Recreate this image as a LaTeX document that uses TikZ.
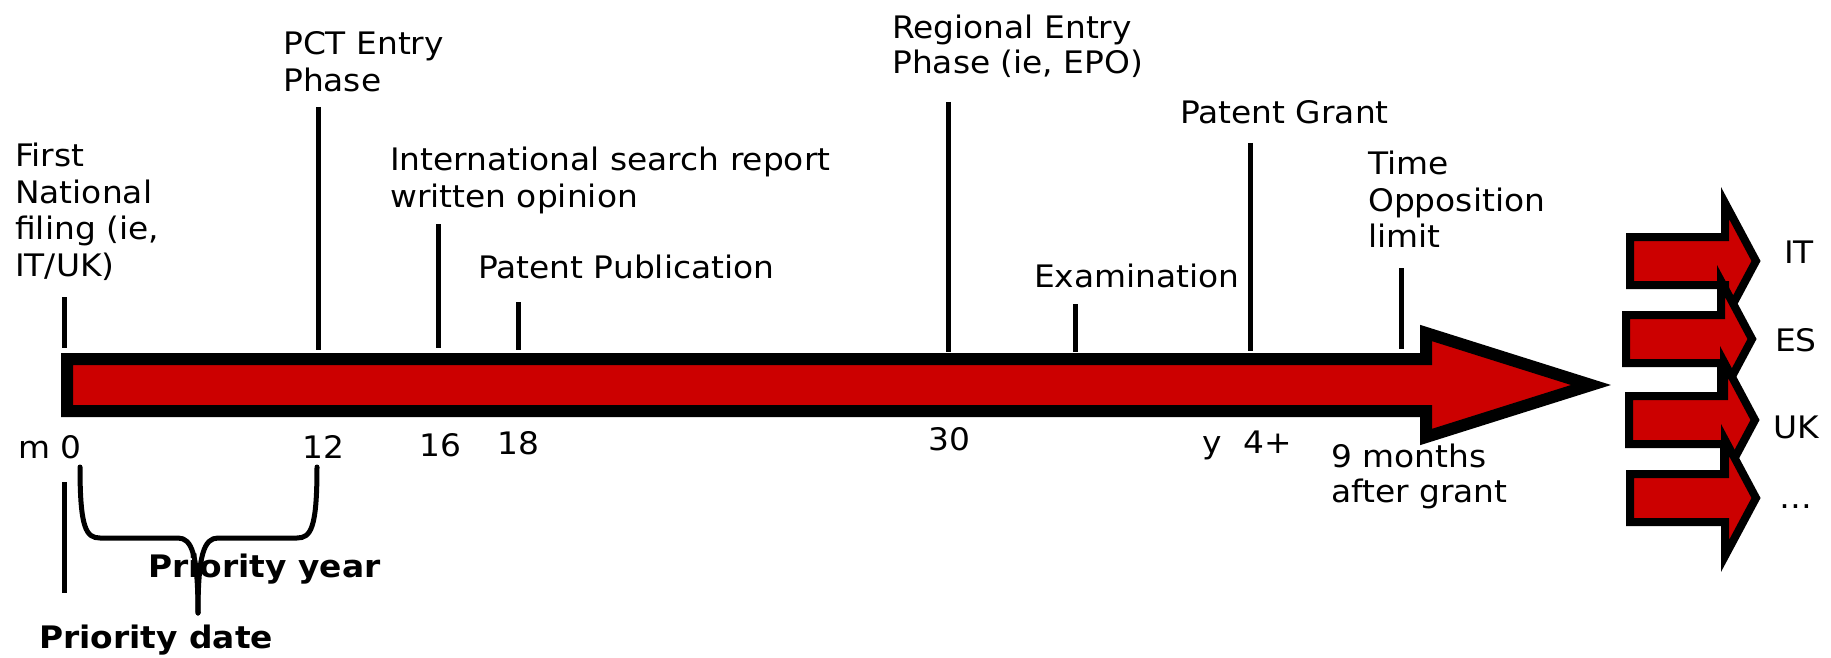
\documentclass[tikz,border=0pt]{standalone}
\usepackage{fontspec}
\setmainfont{DejaVu Sans}[FakeStretch=1.06]
\definecolor{arrowred}{RGB}{204,0,0}
\newcommand\ml[2][36.5pt]{\vtop{\baselineskip=#1\lineskiplimit=-100pt\lineskip=0pt #2}}
\tikzset{
  lbl/.style={font=\fontsize{31}{36.5}\selectfont, anchor=base west, inner sep=0pt},
  blbl/.style={lbl, font=\fontsize{31}{36.5}\selectfont\bfseries},
  clbl/.style={font=\fontsize{31}{36.5}\selectfont, anchor=base, inner sep=0pt},
  tickline/.style={line width=5pt, black},
  bigarrow/.style={fill=arrowred, draw=black, line width=12pt, line join=miter},
  smallarrowstyle/.style={fill=arrowred, draw=black, line width=8pt, line join=miter},
  bracestyle/.style={line width=5pt, black, line join=round, line cap=round},
  smallarrow/.pic={
    \path[smallarrowstyle] (0,-24) -- (95,-24) -- (95,-58) -- (126,0) -- (95,58) -- (95,24) -- (0,24) -- cycle;
  }
}
\begin{document}
\begin{tikzpicture}[x=1pt,y=-1pt]
\useasboundingbox (0,0) rectangle (1831,658);

% main arrow
\path[bigarrow] (67,359) -- (1426,359) -- (1426,333) -- (1591,385) -- (1426,437) -- (1426,411) -- (67,411) -- cycle;

% tick coordinates
\coordinate (t0a) at (64,297);   \coordinate (t0b) at (64,348);
\coordinate (t12a) at (318,107); \coordinate (t12b) at (318,350);
\coordinate (t16a) at (438,224); \coordinate (t16b) at (438,348);
\coordinate (t18a) at (518,302); \coordinate (t18b) at (518,350);
\coordinate (t30a) at (948,102); \coordinate (t30b) at (948,352);
\coordinate (tex a) at (1075,304); \coordinate (tex b) at (1075,352);
\coordinate (tgr a) at (1250,143); \coordinate (tgr b) at (1250,351);
\coordinate (top a) at (1401,268); \coordinate (top b) at (1401,349);
\coordinate (pda) at (64,482); \coordinate (pdb) at (64,593);

\draw[tickline] (t0a) -- (t0b);
\draw[tickline] (t12a) -- (t12b);
\draw[tickline] (t16a) -- (t16b);
\draw[tickline] (t18a) -- (t18b);
\draw[tickline] (t30a) -- (t30b);
\draw[tickline] (tex a) -- (tex b);
\draw[tickline] (tgr a) -- (tgr b);
\draw[tickline] (top a) -- (top b);
\draw[tickline] (pda) -- (pdb);

% top labels
\node[lbl] (first) at (15,166.7) {\ml{\hbox{First}\hbox{National}\hbox{filing (ie,}\hbox{IT/UK)}}};
\node[lbl] (pct) at (283,55) {\ml{\hbox{PCT Entry}\hbox{Phase}}};
\node[lbl] (isr) at (390,170.5) {\ml[37pt]{\hbox{International search report}\hbox{written opinion}}};
\node[lbl] (pub) at (478,278) {Patent Publication};
\node[lbl] (reg) at (892,38.3) {\ml[35pt]{\hbox{Regional Entry}\hbox{Phase (ie, EPO)}}};
\node[lbl] (exam) at (1034,287) {Examination};
\node[lbl] (grant) at (1180,124) {Patent Grant};
\node[lbl] (time) at (1368,175) {\ml{\hbox{Time}\hbox{Opposition}\hbox{limit}}};

% bottom labels
\node[lbl] (m0) at (18,458) {m 0};
\node[lbl] (n12) at (302,458) {12};
\node[lbl] (n16) at (419,456.7) {16};
\node[lbl] (n18) at (497,454) {18};
\node[lbl] (n30) at (928,450) {30};
\node[lbl] (ny) at (1202,453) {y};
\node[lbl] (n4) at (1243,453) {4+};
\node[lbl] (nine) at (1331,467.5) {\ml[34.5pt]{\hbox{9 months}\hbox{after grant}}};

% brace
\coordinate (brl) at (80,467);
\coordinate (brr) at (317,467);
\coordinate (brtip) at (198,613);
\draw[bracestyle] (brl) .. controls (80,528) and (86,538) .. (100,538) -- (178,538)
  .. controls (192,538) and (198,555) .. (brtip);
\draw[bracestyle] (brr) .. controls (317,528) and (311,538) .. (297,538) -- (218,538)
  .. controls (204,538) and (198,555) .. (brtip);

\node[blbl] (pyear) at (148,577) {Priority year};
\node[blbl] (pdate) at (39,648) {Priority date};

% small arrows
\pic at (1630,261) {smallarrow};
\pic at (1626,339) {smallarrow};
\pic at (1629,420) {smallarrow};
\pic at (1630,498) {smallarrow};

\node[clbl] (it) at (1799,263) {IT};
\node[clbl] (es) at (1796,351) {ES};
\node[clbl] (uk) at (1796,438) {UK};
\node[clbl] (etc) at (1796,508) {…};
\end{tikzpicture}
\end{document}
